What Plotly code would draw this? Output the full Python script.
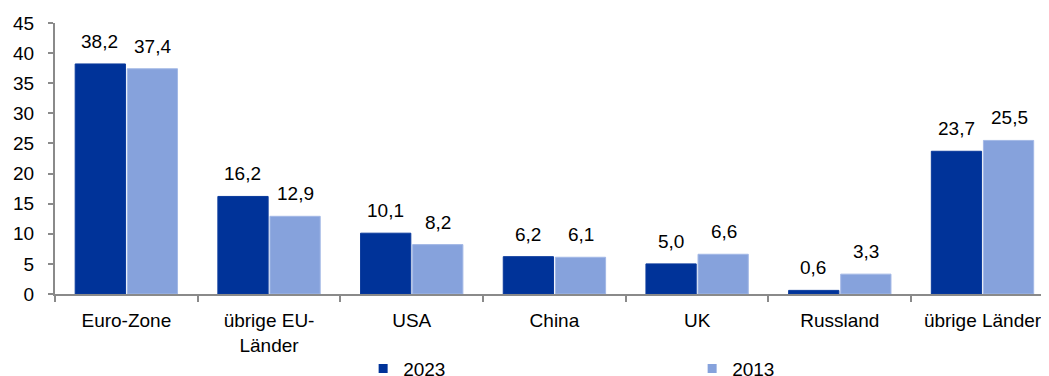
import plotly.graph_objects as go

categories = ["Euro-Zone", "übrige EU-<br>Länder", "USA", "China", "UK", "Russland", "übrige Länder"]
values_2023 = [38.2, 16.2, 10.1, 6.2, 5.0, 0.6, 23.7]
values_2013 = [37.4, 12.9, 8.2, 6.1, 6.6, 3.3, 25.5]
series_names = ["2023", "2013"]
colors = ["#003399", "#86A2DC"]
edge_colors = ["#0a3a9c", "#a3b8e6"]
y_ticks = [0, 5, 10, 15, 20, 25, 30, 35, 40, 45]

FONT = "Liberation Sans, Arial, sans-serif"
FS = 19
AXIS_COLOR = "#8a8a8a"

fig = go.Figure()
for name, vals, col, edge in zip(series_names, [values_2023, values_2013], colors, edge_colors):
    fig.add_trace(go.Bar(
        x=categories, y=vals, name=name, marker=dict(color=col, line=dict(width=1, color=edge)),
        showlegend=False, hoverinfo="skip",
    ))
    # legend proxy with small square marker
    fig.add_trace(go.Scatter(
        x=[None], y=[None], mode="markers", name=name,
        marker=dict(symbol="square", size=9, color=col), showlegend=True,
    ))

annotations = []
for vals, shift in zip([values_2023, values_2013], [-26.5, 26.5]):
    for c, v in zip(categories, vals):
        annotations.append(dict(
            x=c, y=v, xref="x", yref="y", text=f"{v:.1f}".replace(".", ","),
            showarrow=False, xshift=shift, yshift=10, yanchor="bottom",
            font=dict(family=FONT, size=FS, color="black"),
        ))

fig.update_layout(
    width=1041, height=368,
    margin=dict(l=47, r=0, t=15, b=82, autoexpand=False),
    paper_bgcolor="white", plot_bgcolor="white",
    font=dict(family=FONT, size=FS, color="black"),
    separators=",.",
    barmode="group", bargap=0.27, bargroupgap=0.035,
    annotations=annotations,
    legend=dict(
        orientation="h", x=0.31, xanchor="left", y=-0.275, yanchor="middle",
        itemwidth=30, entrywidth=284, entrywidthmode="pixels",
        font=dict(family=FONT, size=FS, color="black"),
        bgcolor="rgba(0,0,0,0)",
    ),
    xaxis=dict(
        type="category", range=[-0.5, 6.466], automargin=False,
        showline=True, linecolor=AXIS_COLOR, linewidth=2,
        ticks="outside", tickson="boundaries", ticklen=6, tickcolor=AXIS_COLOR, tickwidth=2,
        showgrid=False, zeroline=False, ticklabelstandoff=8,
        tickfont=dict(family=FONT, size=FS, color="black"),
    ),
    yaxis=dict(
        range=[0, 45], tickvals=y_ticks, ticktext=[str(t) for t in y_ticks], automargin=False,
        showline=True, linecolor=AXIS_COLOR, linewidth=2,
        ticks="outside", ticklen=5, tickcolor=AXIS_COLOR, tickwidth=2,
        showgrid=False, zeroline=False, ticklabelstandoff=10,
        tickfont=dict(family=FONT, size=FS, color="black"),
    ),
)

fig.write_html("out.html")
